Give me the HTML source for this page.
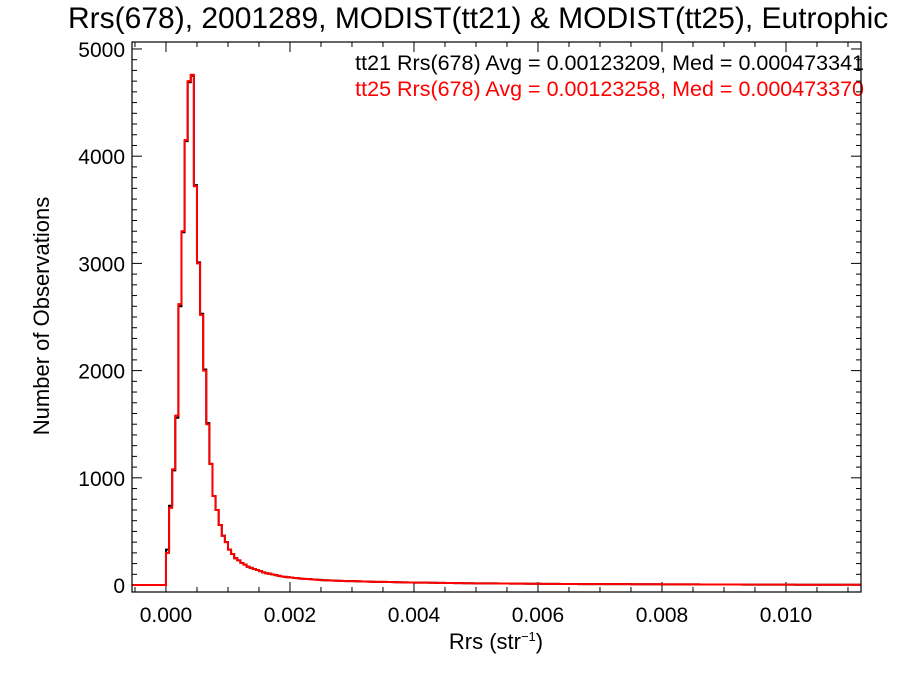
<!DOCTYPE html>
<html><head><meta charset="utf-8"><style>
body{margin:0;background:#fff;}
svg text{font-family:"Liberation Sans",Arial,sans-serif;}
</style></head><body>
<svg id="chart" width="900" height="675" xmlns="http://www.w3.org/2000/svg">
<text x="68" y="28" font-size="30" fill="#000">Rrs(678), 2001289, MODIST(tt21) &amp; MODIST(tt25), Eutrophic</text>
<text x="864" y="70" font-size="21.5" text-anchor="end" fill="#000">tt21 Rrs(678) Avg = 0.00123209, Med = 0.000473341</text>
<text x="864" y="96" font-size="21.5" text-anchor="end" fill="#ff0000">tt25 Rrs(678) Avg = 0.00123258, Med = 0.000473370</text>
<text transform="translate(49,316) rotate(-90)" font-size="22" text-anchor="middle">Number of Observations</text>
<text x="496" y="649" font-size="22" text-anchor="middle">Rrs (str<tspan font-size="13" dy="-8">−1</tspan><tspan dy="8">)</tspan></text>
<g id="axes"></g>
<g id="series"></g>
<rect x="132" y="42" width="729" height="550" fill="none" stroke="#000" stroke-width="1.2"/>
</svg>
<script>
const binStart = 0.0;
const binWidth = 0.00005;
const xTicks = [0.000, 0.002, 0.004, 0.006, 0.008, 0.010];
const xTickLabels = ["0.000","0.002","0.004","0.006","0.008","0.010"];
const yTicks = [0, 1000, 2000, 3000, 4000, 5000];
const yTickLabels = ["0","1000","2000","3000","4000","5000"];
const tt25Counts = [300,720,1080,1580,2620,3300,4150,4700,4760,3720,3000,2520,2000,1500,1130,830,700,560,460,400,330,290,250,230,
205,190,170,160,150,140,130,118,110,105,98,92,85,80,76,72,70,66,64,60,58,56,55,52,50,
48,46,45,44,42,41,40,39,38,37,36,36,35,34,33,33,32,31,30,30,29,29,28,28,27,26,26,25,25,24,
24,23,23,22,22,22,21,21,20,20,20,19,19,19,18,18,18,17,17,17,16,16,16,16,15,15,15,15,14,14,
14,14,13,13,13,13,13,12,12,12,12,12,11,11,11,11,11,11,10,10,10,10,10,10,9,9,9,9,9,9,
9,9,8,8,8,8,8,8,8,8,8,7,7,7,7,7,7,7,7,7,7,6,6,6,6,6,6,6,6,6,
6,6,6,5,5,5,5,5,5,5,5,5,5,5,5,5,5,4,4,4,4,4,4,4,4,4,4,4,4,4,
4,4,4,4,3,3,3,3,3,3,3,3,3,3,3,3,3,3,3,3,3,3,3,3,3,3,3];
const tt21Counts = [330,740,1070,1560,2600,3290,4140,4690,4750,3730,3010,2530,2010,1510,1130,830,700,560,460,400,330,290,250,230,
205,190,170,160,150,140,130,118,110,105,98,92,85,80,76,72,70,66,64,60,58,56,55,52,50,
48,46,45,44,42,41,40,39,38,37,36,36,35,34,33,33,32,31,30,30,29,29,28,28,27,26,26,25,25,24,
24,23,23,22,22,22,21,21,20,20,20,19,19,19,18,18,18,17,17,17,16,16,16,16,15,15,15,15,14,14,
14,14,13,13,13,13,13,12,12,12,12,12,11,11,11,11,11,11,10,10,10,10,10,10,9,9,9,9,9,9,
9,9,8,8,8,8,8,8,8,8,8,7,7,7,7,7,7,7,7,7,7,6,6,6,6,6,6,6,6,6,
6,6,6,5,5,5,5,5,5,5,5,5,5,5,5,5,5,4,4,4,4,4,4,4,4,4,4,4,4,4,
4,4,4,4,3,3,3,3,3,3,3,3,3,3,3,3,3,3,3,3,3,3,3,3,3,3,3];

const L=132,R=861,T=42,B=592;
const xMin=-0.000548, xMax=0.011210, yMin=-65, yMax=5065;
const X=v=>L+(v-xMin)/(xMax-xMin)*(R-L);
const Y=v=>B-(v-yMin)/(yMax-yMin)*(B-T);
const NS="http://www.w3.org/2000/svg";
const axes=document.getElementById('axes');
function line(x1,y1,x2,y2,name){
  const l=document.createElementNS(NS,'line');
  l.setAttribute('x1',x1);l.setAttribute('y1',y1);l.setAttribute('x2',x2);l.setAttribute('y2',y2);
  l.setAttribute('stroke','#000');l.setAttribute('stroke-width','1');
  
  
  axes.appendChild(l);
}
for(let v=-0.0005; v<=xMax; v+=0.0005){
  const x=X(v);
  const major=xTicks.some(t=>Math.abs(t-v)<1e-9);
  const len=major?10:5;
  line(x,B,x,B-len,'x-tick');
  line(x,T,x,T+len,'x-tick-top');
}
xTicks.forEach((v,i)=>{
  const t=document.createElementNS(NS,'text');
  t.setAttribute('x',X(v));t.setAttribute('y',622);t.setAttribute('font-size','21');t.setAttribute('text-anchor','middle');
  t.textContent=xTickLabels[i];
  
  
  axes.appendChild(t);
});
for(let v=0; v<=5000; v+=100){
  const y=Y(v);
  const major=v%1000===0;
  const len=major?10:5;
  line(L,y,L+len,y,'y-tick');
  line(R,y,R-len,y,'y-tick-right');
}
yTicks.forEach((v,i)=>{
  const t=document.createElementNS(NS,'text');
  t.setAttribute('x',125);t.setAttribute('y',Y(v)+8);t.setAttribute('font-size','21');t.setAttribute('text-anchor','end');
  t.textContent=yTickLabels[i];
  
  
  axes.appendChild(t);
});
const series=document.getElementById('series');
function drawHist(counts,color,name){
  let d='M'+L+','+Y(0)+' L'+X(binStart)+','+Y(0);
  counts.forEach((c,i)=>{
    const x0=X(binStart+i*binWidth), x1=X(binStart+(i+1)*binWidth);
    if(x0>=R) return;
    d+=' L'+x0+','+Y(c)+' L'+Math.min(x1,R)+','+Y(c);
  });
  const p=document.createElementNS(NS,'path');
  p.setAttribute('d',d);p.setAttribute('fill','none');p.setAttribute('stroke',color);p.setAttribute('stroke-width','2');
  
  
  series.appendChild(p);
}
drawHist(tt21Counts,'#000','tt21-histogram');
drawHist(tt25Counts,'#ff0000','tt25-histogram');
</script>
</body></html>
